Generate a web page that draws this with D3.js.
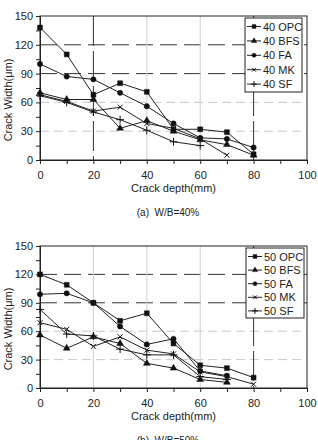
<!DOCTYPE html>
<html>
<head>
<meta charset="utf-8">
<script src="https://cdn.jsdelivr.net/npm/d3@7"></script>
<style>
  body { margin:0; background:#fff; }
  text { font-family: "Liberation Sans", Arial, sans-serif; fill:#222; }
</style>
</head>
<body>
<svg id="chart" width="318" height="440"></svg>
<script>
// crack depth (mm)
var depth = [0,10,20,30,40,50,60,70,80];

// W/B = 40%
var opc40 = [138,110,68,80,71,32,32,29,6];
var bfs40 = [70,63,63,33,41,30,21,16,5];
var fa40  = [100,87,84,70,56,38,23,22,13];
var mk40  = [68,61,51,55,38,33,22,5];
var sf40  = [67,60,50,42,31,19,15];

// W/B = 50%
var opc50 = [120,109,90,71,79,47,24,21,11];
var bfs50 = [56,42,54,47,26,21,9,6];
var fa50  = [99,100,90,65,46,52,18,13];
var mk50  = [69,62,44,54,40,36,17,12,4];
var sf50  = [83,57,55,41,35,35,12,9];

var xTicks = [0,20,40,60,80,100];
var yTicks = [0,30,60,90,120,150];

var svg = d3.select("#chart");

var markerTypes = {
  OPC: d3.symbolSquare,
  BFS: d3.symbolTriangle,
  FA: d3.symbolCircle,
  MK: d3.symbolTimes || d3.symbolX,
  SF: d3.symbolPlus
};
var markerSizes = { OPC: 24, BFS: 20, FA: 22, MK: 18, SF: 22 };
var strokeOnly = { MK: true, SF: true };

function drawChart(top, bottom, series, prefix, caption, legendBox, rowGap) {
  var left = 40, right = 307;
  var x = d3.scaleLinear().domain([0,100]).range([left,right]);
  var y = d3.scaleLinear().domain([0,150]).range([bottom,top]);
  var g = svg.append("g");

  // grid, oddly mixed like the scanned figure
  [30,60].forEach(function(v){
    g.append("line").attr("x1",left).attr("x2",right).attr("y1",y(v)).attr("y2",y(v))
      .attr("stroke","#c8c8c8").attr("stroke-width",1).attr("stroke-dasharray","9,5");
  });
  [90,120].forEach(function(v){
    g.append("line").attr("x1",left).attr("x2",right).attr("y1",y(v)).attr("y2",y(v))
      .attr("stroke","#333").attr("stroke-width",1).attr("stroke-dasharray","17,7");
  });
  [20,40,60,80].forEach(function(v){
    var dark = (v==80) || (v==20 && prefix=="40");
    g.append("line").attr("x1",x(v)).attr("x2",x(v)).attr("y1",top).attr("y2",bottom)
      .attr("stroke", dark ? "#333" : "#d0d0d0").attr("stroke-width",1)
      .attr("stroke-dasharray", dark ? "30,5" : null);
  });

  // frame
  g.append("rect").attr("x",left).attr("y",top).attr("width",right-left).attr("height",bottom-top)
    .attr("fill","none").attr("stroke","#222").attr("stroke-width",1);

  var xAxis = g.append("g").attr("transform","translate(0,"+bottom+")")
    .call(d3.axisBottom(x).tickValues(d3.range(0,101,10)).tickSize(4)
      .tickFormat(function(d){ return xTicks.indexOf(d)>=0 ? d : ""; }));
  var yAxis = g.append("g").attr("transform","translate("+left+",0)")
    .call(d3.axisLeft(y).tickValues(d3.range(0,151,15)).tickSize(4)
      .tickFormat(function(d){ return yTicks.indexOf(d)>=0 ? d : ""; }));
  [xAxis,yAxis].forEach(function(a){
    a.select(".domain").attr("stroke","#222");
    a.selectAll(".tick line").attr("stroke","#222");
    a.selectAll("text").attr("font-size","11px").attr("fill","#222")
      .attr("font-family","Liberation Sans, Arial, sans-serif");
  });
  xAxis.selectAll("text").attr("dy","1.1em");
  yAxis.selectAll("text").attr("x",-7);

  g.append("text").attr("x",(left+right)/2).attr("y",bottom+32).attr("text-anchor","middle")
    .attr("font-size","11px").text("Crack depth(mm)");
  g.append("text").attr("transform","translate(12,"+((top+bottom)/2+12)+") rotate(-90)")
    .attr("text-anchor","middle").attr("font-size","11px").text("Crack Width(\u03bcm)");
  g.append("text").attr("x",168).attr("y",bottom+56).attr("text-anchor","middle")
    .attr("font-size","10px").attr("fill","#444").attr("xml:space","preserve").text(caption);

  var line = d3.line().x(function(d){ return x(d[0]); }).y(function(d){ return y(d[1]); });

  series.forEach(function(s){
    var pts = s.values.map(function(v,i){ return [depth[i], v]; });
    g.append("path").datum(pts).attr("d",line).attr("fill","none")
      .attr("stroke","#222").attr("stroke-width",1);
    g.selectAll(null).data(pts).enter().append("path")
      .attr("transform",function(d){ return "translate("+x(d[0])+","+y(d[1])+")"; })
      .attr("d", d3.symbol().type(markerTypes[s.key]).size(markerSizes[s.key]))
      .attr("fill", strokeOnly[s.key] ? "none" : "#111")
      .attr("stroke","#111").attr("stroke-width", strokeOnly[s.key] ? 1 : 0.5);
  });

  // legend
  var lg = g.append("g");
  lg.append("rect").attr("x",legendBox[0]).attr("y",legendBox[1])
    .attr("width",legendBox[2]).attr("height",legendBox[3])
    .attr("fill","#fff").attr("stroke","#222").attr("stroke-width",1);
  series.forEach(function(s,i){
    var ry = legendBox[1] + 8.5 + i*rowGap;
    var lx = legendBox[0] + 2;
    lg.append("line").attr("x1",lx).attr("x2",lx+14).attr("y1",ry).attr("y2",ry)
      .attr("stroke","#222").attr("stroke-width",1);
    lg.append("path").attr("transform","translate("+(lx+7)+","+ry+")")
      .attr("d", d3.symbol().type(markerTypes[s.key]).size(markerSizes[s.key]*0.6))
      .attr("fill", strokeOnly[s.key] ? "none" : "#111")
      .attr("stroke","#111").attr("stroke-width", strokeOnly[s.key] ? 1 : 0.5);
    lg.append("text").attr("x",lx+16).attr("y",ry+4).attr("font-size","11px")
      .text(prefix+" "+s.key);
  });
}

drawChart(16, 160, [
  {key:"OPC", values:opc40},
  {key:"BFS", values:bfs40},
  {key:"FA", values:fa40},
  {key:"MK", values:mk40},
  {key:"SF", values:sf40}
], "40", "(a)  W/B=40%", [245,18,57,74], 14.4);

drawChart(246, 388, [
  {key:"OPC", values:opc50},
  {key:"BFS", values:bfs50},
  {key:"FA", values:fa50},
  {key:"MK", values:mk50},
  {key:"SF", values:sf50}
], "50", "(b)  W/B=50%", [246,248,58,70], 13.6);
</script>
</body>
</html>
